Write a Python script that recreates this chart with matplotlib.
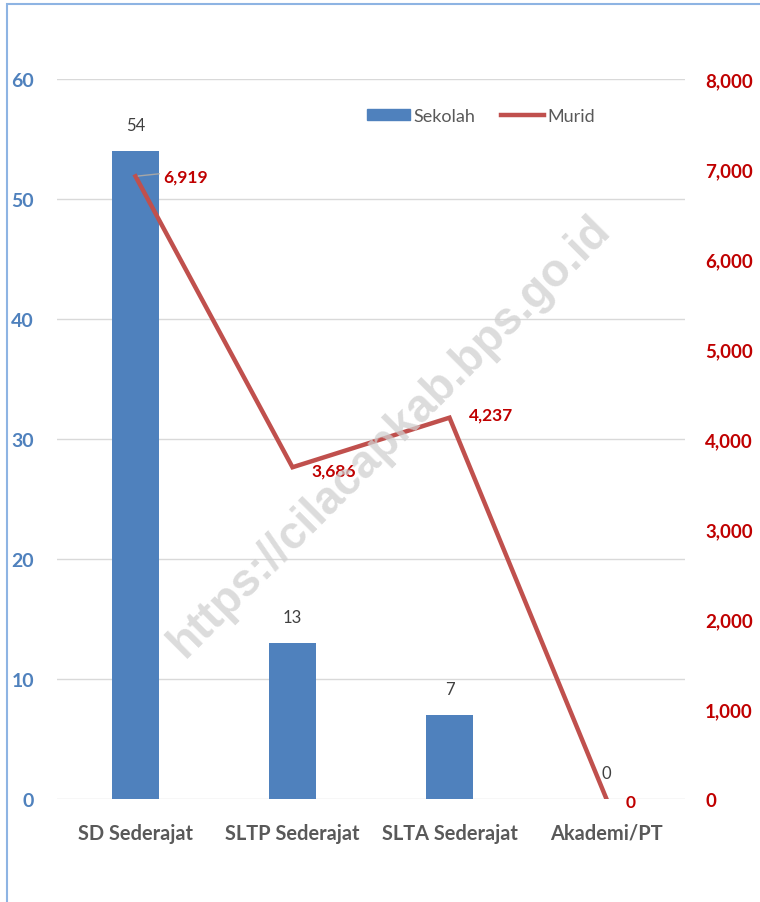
import matplotlib
matplotlib.use("Agg")
import matplotlib.pyplot as plt
from matplotlib.patches import Rectangle
from matplotlib.lines import Line2D
import numpy as np

categories = ["SD Sederajat", "SLTP Sederajat", "SLTA Sederajat", "Akademi/PT"]
sekolah = [54, 13, 7, 0]
murid = [6919, 3686, 4237, 0]
left_ticks = [0, 10, 20, 30, 40, 50, 60]
right_ticks = [0, 1000, 2000, 3000, 4000, 5000, 6000, 7000, 8000]

plt.rcParams['font.family'] = ['Lato', 'DejaVu Sans']

BLUE = "#4F81BD"
RED = "#C0504D"
DARKRED = "#C00000"
GRAY = "#595959"

W, H = 760, 903
fig = plt.figure(figsize=(W / 100, H / 100), dpi=100)

# axes in pixel coords
x0, x1 = 57, 685
y_top, y_bot = 80, 800
ax = fig.add_axes([x0 / W, 1 - y_bot / H, (x1 - x0) / W, (y_bot - y_top) / H])
ax2 = ax.twinx()

x = np.arange(len(categories))
ax.bar(x, sekolah, width=0.30, color=BLUE, zorder=2, label="Sekolah")
ax.set_xlim(-0.5, 3.5)
ax.set_ylim(0, 60)
ax.set_yticks(left_ticks)
ax.set_yticklabels([str(v) for v in left_ticks])
ax.grid(axis='y', color="#d9d9d9", lw=1.0, zorder=0)
ax.set_axisbelow(True)
ax.tick_params(axis='y', length=0, pad=16.5, labelcolor=BLUE, labelsize=14)
for t in ax.get_yticklabels():
    t.set_fontweight('bold')
ax.set_xticks(x)
ax.set_xticklabels(categories, fontsize=14.4, fontweight='bold', color=GRAY)
ax.tick_params(axis='x', length=0, pad=17)
for s in ax.spines.values():
    s.set_visible(False)

ax2.plot(x, murid, color=RED, lw=3.2, zorder=3, label="Murid", solid_joinstyle='miter')
ax2.set_ylim(0, 8000)
ax2.set_yticks(right_ticks)
ax2.set_yticklabels([f"{v:,}" for v in right_ticks])
ax2.tick_params(axis='y', length=0, pad=14.5, labelcolor=DARKRED, labelsize=13.5)
for t in ax2.get_yticklabels():
    t.set_fontweight('bold')
for s in ax2.spines.values():
    s.set_visible(False)

# bar labels
for xi, v in zip(x, sekolah):
    ax.annotate(str(v), (xi, v), xytext=(0, 13), textcoords='offset points',
                ha='center', va='bottom', fontsize=12, color="#404040")

# line labels
offsets = [(20, 0), (14, -2), (14, 2), (14, -2)]
for i, (xi, v) in enumerate(zip(x, murid)):
    dx, dy = offsets[i]
    ax2.annotate(f"{v:,}", (xi, v), xytext=(dx, dy), textcoords='offset points',
                 ha='left', va='center', fontsize=12.5, fontweight='bold', color=DARKRED,
                 zorder=5)
# leader line for first label
ax2.annotate("", (x[0], murid[0]), xytext=(19, 2), textcoords='offset points',
             arrowprops=dict(arrowstyle='-', color="#a6a6a6", lw=1))

# legend
handles = [Rectangle((0, 0), 1, 1, color=BLUE), Line2D([0], [0], color=RED, lw=3.2)]
fig.legend(handles, ["Sekolah", "Murid"], loc='center', bbox_to_anchor=(481 / W, 1 - 117 / H),
           ncol=2, frameon=False, fontsize=13, labelcolor=GRAY, handlelength=2.4,
           handleheight=0.5, columnspacing=1.4, handletextpad=0.2)

# watermark
fig.text(390 / W, 1 - 437 / H, "https://cilacapkab.bps.go.id", rotation=45,
         ha='center', va='center', fontsize=33, fontweight='bold', color="#d0d0d0",
         alpha=0.75, family=['Liberation Sans', 'DejaVu Sans'], zorder=10)

# border
fig.patches.append(Rectangle((7 / W, -0.1), 2.0, (1 - 5 / H) + 0.1, transform=fig.transFigure,
                             fill=False, edgecolor="#8EB4E3", lw=1.5, zorder=0))

fig.savefig("out.png", dpi=100)
